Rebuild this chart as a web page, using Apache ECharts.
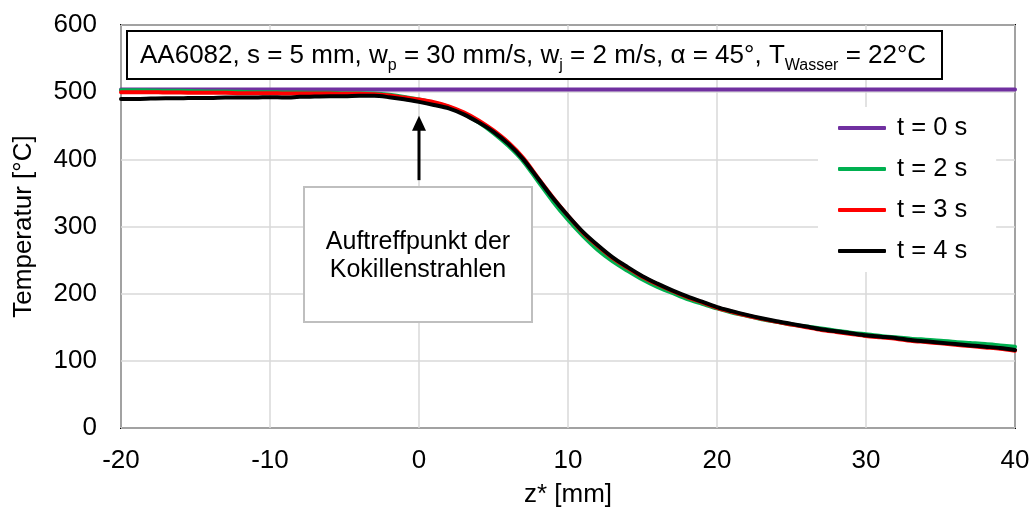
<!DOCTYPE html>
<html>
<head>
<meta charset="utf-8">
<script src="https://cdn.jsdelivr.net/npm/echarts@6/dist/echarts.min.js"></script>
<style>
  html, body { margin: 0; padding: 0; background: #fff; }
  #chart { width: 1032px; height: 508px; }
</style>
</head>
<body>
<div id="chart"></div>
<script>
// Position along the strip z* in mm
const zValues = [
  -20, -19, -18, -17, -16, -15, -14, -13, -12, -11,
  -10, -9, -8, -7, -6, -5, -4, -3, -2, -1,
  0, 1, 2, 3, 4, 5, 6, 7, 8, 9,
  10, 11, 12, 13, 14, 15, 16, 17, 18, 19,
  20, 21, 22, 23, 24, 25, 26, 27, 28, 29,
  30, 31, 32, 33, 34, 35, 36, 37, 38, 39, 40
];

// Temperature profiles in °C at each time step
const temp0s = zValues.map(() => 504);

const temp2s = [
  503, 503, 502.5, 502, 502, 501.5, 501, 501, 500.5, 500,
  500, 499.5, 499.5, 499, 499, 498.5, 498.5, 498, 496, 493,
  489, 484, 478, 468, 455, 439, 420, 397, 367, 337,
  310, 286, 265, 248, 234, 221, 210, 201, 192, 185,
  178, 172, 167, 162, 158, 154, 151, 148, 145, 142,
  139.5, 137, 135, 133, 131.5, 130, 128, 126.5, 125, 123, 121
];

const temp3s = [
  500, 500, 500, 499.5, 499.5, 499, 499, 499, 498.5, 498.5,
  498.5, 498, 498, 498, 498, 497.5, 497.5, 497, 495, 492,
  489, 485, 479, 470, 458, 443, 425, 402, 372, 343,
  316, 291, 271, 253, 238.5, 225, 214, 204, 195, 187,
  179, 173, 167.5, 162.5, 158, 154, 150, 146, 143, 140,
  137, 135, 133, 130, 128, 126, 124, 122, 120, 118, 115
];

const temp4s = [
  490, 490, 490.5, 491, 491, 491.5, 491.5, 492, 492, 492,
  492.5, 492, 493, 493.5, 494, 494, 494.5, 494.5, 492.5, 489.5,
  485.5, 481, 476, 467, 455, 441, 423, 400, 371, 342,
  316, 292, 272, 254, 239.5, 226, 215, 205, 196, 188,
  180, 174, 168.5, 163.5, 159, 155, 151, 147, 144, 141,
  138, 136, 134, 131, 129, 127, 125, 123, 121, 119, 116
];

const seriesNames = ['t = 0 s', 't = 2 s', 't = 3 s', 't = 4 s'];
const seriesColors = ['#7030A0', '#00B050', '#FF0000', '#000000'];
const seriesTemps = [temp0s, temp2s, temp3s, temp4s];

const xTicks = { min: -20, max: 40, interval: 10 };
const yTicks = { min: 0, max: 600, interval: 100 };

const FONT = 'Liberation Sans, Arial, sans-serif';

const chart = echarts.init(document.getElementById('chart'), null, { renderer: 'canvas' });

const series = seriesNames.map((name, i) => ({
  name: name,
  type: 'line',
  data: zValues.map((z, k) => [z, seriesTemps[i][k]]),
  showSymbol: false,
  symbol: 'none',
  smooth: 0.3,
  color: seriesColors[i],
  lineStyle: { width: 4, color: seriesColors[i], cap: 'round' },
  emphasis: { disabled: true },
  z: 2 + i
}));

chart.setOption({
  animation: false,
  backgroundColor: '#fff',
  grid: {
    left: 121, right: 17, top: 25, bottom: 80,
    outerBoundsMode: 'none',
    containLabel: false,
    show: true, borderColor: '#000', borderWidth: 2, backgroundColor: 'transparent'
  },
  xAxis: {
    type: 'value',
    min: xTicks.min, max: xTicks.max, interval: xTicks.interval,
    name: 'z* [mm]',
    nameLocation: 'middle',
    nameGap: 54,
    nameTextStyle: { fontFamily: FONT, fontSize: 26, color: '#000' },
    axisLine: { show: false },
    axisTick: { show: false },
    axisLabel: { fontFamily: FONT, fontSize: 26, color: '#000', margin: 20 },
    splitLine: { show: true, lineStyle: { color: '#D9D9D9', width: 1.5 } }
  },
  yAxis: {
    type: 'value',
    min: yTicks.min, max: yTicks.max, interval: yTicks.interval,
    name: 'Temperatur [°C]',
    nameLocation: 'middle',
    nameRotate: 90,
    nameGap: 84,
    nameTextStyle: { fontFamily: FONT, fontSize: 26, color: '#000' },
    axisLine: { show: false },
    axisTick: { show: false },
    axisLabel: { fontFamily: FONT, fontSize: 26, color: '#000', margin: 24 },
    splitLine: { show: true, lineStyle: { color: '#D9D9D9', width: 1.5 } }
  },
  legend: {
    orient: 'vertical',
    left: 818,
    top: 107,
    padding: [8, 29, 8, 20],
    itemGap: 15,
    itemWidth: 48,
    itemHeight: 4,
    icon: 'roundRect',
    backgroundColor: '#fff',
    data: seriesNames,
    textStyle: { fontFamily: FONT, fontSize: 25.5, color: '#000', padding: [0, 0, 0, 6] }
  },
  series: series
});

// Annotation: parameter box, impingement arrow and its label
function drawAnnotations() {
  const tip = chart.convertToPixel({ gridIndex: 0 }, [0, 465]);
  const tail = chart.convertToPixel({ gridIndex: 0 }, [0, 369]);
  const ax = tip[0];
  chart.setOption({
    graphic: [
      {
        type: 'rect', z: 10,
        shape: { x: 127, y: 31, width: 815, height: 48 },
        style: { fill: '#fff', stroke: '#000', lineWidth: 2 }
      },
      {
        type: 'text', z: 11,
        x: 140, y: 56,
        style: {
          text: '{n|AA6082, s = 5 mm, w}{s|p}{n| = 30 mm/s, w}{s|j}{n| = 2 m/s, α = 45°, T}{s|Wasser}{n| = 22°C}',
          verticalAlign: 'middle',
          align: 'left',
          fill: '#000',
          rich: {
            n: { fontFamily: FONT, fontSize: 26, lineHeight: 36, verticalAlign: 'middle', fill: '#000' },
            s: { fontFamily: FONT, fontSize: 16, lineHeight: 16, verticalAlign: 'bottom', fill: '#000' }
          }
        }
      },
      {
        type: 'line', z: 10,
        shape: { x1: ax, y1: tail[1], x2: ax, y2: tip[1] + 12 },
        style: { stroke: '#000', lineWidth: 3 }
      },
      {
        type: 'polygon', z: 10,
        shape: { points: [[ax - 7, tip[1] + 15], [ax + 7, tip[1] + 15], [ax, tip[1]]] },
        style: { fill: '#000' }
      },
      {
        type: 'rect', z: 10,
        shape: { x: 304, y: 187, width: 228, height: 135 },
        style: { fill: '#fff', stroke: '#BFBFBF', lineWidth: 2 }
      },
      {
        type: 'text', z: 11,
        x: 418, y: 256,
        style: {
          text: 'Auftreffpunkt der\nKokillenstrahlen',
          fontFamily: FONT, fontSize: 25, lineHeight: 28.5,
          align: 'center', verticalAlign: 'middle', fill: '#000'
        }
      }
    ]
  });
}
drawAnnotations();
</script>
</body>
</html>
